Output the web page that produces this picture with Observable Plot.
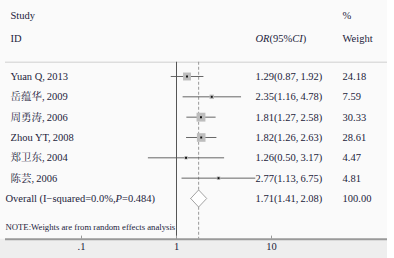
<!DOCTYPE html>
<html><head><meta charset="utf-8">
<script src="https://cdn.jsdelivr.net/npm/d3@7"></script>
<script src="https://cdn.jsdelivr.net/npm/@observablehq/plot@0.6"></script>
<style>body{margin:0;background:#fff}</style>
</head><body><div id="chart"></div>
<script>
const studies = ["Yuan Q,\u20092013","岳蕴华,\u20092009","周勇涛,\u20092006","Zhou YT,\u20092008","郑卫东,\u20092004","陈芸,\u20092006"];
const orVals = [1.29,2.35,1.81,1.82,1.26,2.77];
const ciLow = [0.87,1.16,1.27,1.26,0.50,1.13];
const ciHigh = [1.92,4.78,2.58,2.63,3.17,6.75];
const weights = [24.18,7.59,30.33,28.61,4.47,4.81];
const overall = {label:"Overall (I−squared=0.0%,P=0.484)", or:1.71, lo:1.41, hi:2.08, weight:100.00};
const tickValues = [0.1, 1, 10];
const tickLabels = [".1", "1", "10"];
const note = "NOTE:Weights are from random effects analysis";

const rows = studies.map((s,i)=>({study:s, or:orVals[i], lo:ciLow[i], hi:ciHigh[i], w:weights[i], i}));
const oi = rows.length;
const fmt = d3.format(".2f");
const ciText = d => `${fmt(d.or)}(${fmt(d.lo)},\u2009${fmt(d.hi)})`;
const font = "'Liberation Serif','Noto Serif CJK SC','Noto Sans CJK SC',serif";
const ink = "#1c1c3a";

const xMin = Math.pow(10, -1.8), xMax = Math.pow(10, 211/95);
const diamond = [
  {x:overall.lo, y:oi}, {x:overall.or, y:oi-0.42}, {x:overall.hi, y:oi}, {x:overall.or, y:oi+0.42}, {x:overall.lo, y:oi}
];

const plot = Plot.plot({
  width:394, height:258,
  margin:0,
  style:{fontFamily:font, fontSize:"10.5px", background:"transparent"},
  x:{type:"log", domain:[xMin, xMax], range:[5,387], axis:null},
  y:{domain:[-3.738, 8.952], range:[0,258], axis:null},
  r:{type:"sqrt", domain:[0,30.33], range:[0,5]},
  marks:[
    Plot.rect([0], {x1:xMin, x2:xMax, y1:-3.738, y2:8.0, fill:"#fafafa", insetLeft:-5}),
    Plot.rect([0], {x1:xMin, x2:xMax, y1:8.0, y2:8.952, fill:"#eeeeee", insetLeft:-5}),
    Plot.ruleY([-0.7], {x1:xMin, x2:xMax, stroke:"#dddddd", strokeWidth:1.5}),
    Plot.ruleX([1], {y1:-0.7, y2:8.0, stroke:"#555", strokeWidth:1}),
    Plot.ruleX([overall.or], {y1:-0.7, y2:8.0, stroke:"#999", strokeWidth:1, strokeDasharray:"3,2"}),
    Plot.link(rows, {x1:"lo", x2:"hi", y1:"i", y2:"i", stroke:"#555", strokeWidth:0.9}),
    Plot.dot(rows, {x:"or", y:"i", r:"w", symbol:"square", fill:"#bdbdbd", stroke:null}),
    Plot.dot(rows, {x:"or", y:"i", r:1.1, symbol:"square", fill:"#111", stroke:null}),
    Plot.line(diamond, {x:"x", y:"y", stroke:"#999", strokeWidth:0.9, fill:"#fff"}),
    Plot.text(rows, {y:"i", text:"study", frameAnchor:"left", dx:10, textAnchor:"start", fill:ink}),
    Plot.text(rows, {y:"i", text:ciText, frameAnchor:"left", dx:255, textAnchor:"start", fill:ink}),
    Plot.text(rows, {y:"i", text:d=>fmt(d.w), frameAnchor:"left", dx:342, textAnchor:"start", fill:ink}),
    Plot.text([overall], {y:oi, text:"label", frameAnchor:"left", dx:5, textAnchor:"start", fill:ink}),
    Plot.text([overall], {y:oi, text:ciText, frameAnchor:"left", dx:255, textAnchor:"start", fill:ink}),
    Plot.text([overall], {y:oi, text:d=>fmt(d.weight), frameAnchor:"left", dx:342, textAnchor:"start", fill:ink}),
    Plot.text(["Study"], {y:-3.0, text:d=>d, frameAnchor:"left", dx:10, textAnchor:"start", fill:ink}),
    Plot.text(["ID"], {y:-1.87, text:d=>d, frameAnchor:"left", dx:10, textAnchor:"start", fill:ink}),
    Plot.text(["OR(95%CI)"], {y:-1.87, text:d=>d, frameAnchor:"left", dx:255, textAnchor:"start", fill:ink}),
    Plot.text(["%"], {y:-3.0, text:d=>d, frameAnchor:"left", dx:342, textAnchor:"start", fill:ink}),
    Plot.text(["Weight"], {y:-1.87, text:d=>d, frameAnchor:"left", dx:342, textAnchor:"start", fill:ink}),
    Plot.text([note], {y:7.43, text:d=>d, frameAnchor:"left", dx:5, textAnchor:"start", fill:ink, fontSize:8.7}),
    Plot.ruleY([8.0], {x1:xMin, x2:xMax, stroke:"#9a9a9a", strokeWidth:2}),
    Plot.ruleX(tickValues, {y1:7.85, y2:8.0, stroke:"#9a9a9a", strokeWidth:1}),
    Plot.text(tickValues, {x:d=>d, y:8.38, text:(d,i)=>tickLabels[i], fill:ink})
  ]
});
document.getElementById("chart").appendChild(plot);
const svg = d3.select(plot);
svg.selectAll("text").each(function(){
  const t = this.textContent;
  if (t === "OR(95%CI)") this.innerHTML = '<tspan font-style="italic">OR</tspan>(95%<tspan font-style="italic">CI</tspan>)';
  else if (t === overall.label) this.innerHTML = 'Overall (I−squared=0.0%,<tspan font-style="italic">P</tspan>=0.484)';
});
</script></body></html>
